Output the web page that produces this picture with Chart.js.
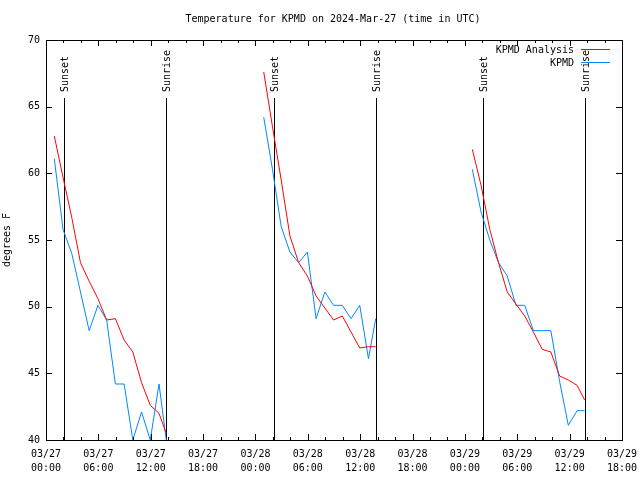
<!DOCTYPE html>
<html lang="en">
<head>
<meta charset="UTF-8">
<script src="https://cdn.jsdelivr.net/npm/chart.js"></script>
<style>
  body { margin: 0; background: #fff; }
  #wrap { width: 640px; height: 480px; }
</style>
</head>
<body>
<div id="wrap"><canvas id="chart" width="640" height="480"></canvas></div>
<script>
  const titleText = 'Temperature for KPMD on 2024-Mar-27 (time in UTC)';
  const yTitle = 'degrees F';
  const dayLabels = ['03/27', '03/28', '03/29'];
  const seriesNames = ['KPMD Analysis', 'KPMD'];

  // hours since 03/27 00:00 UTC, one list per night
  const hours1 = [0.95, 1.95, 2.95, 3.95, 4.95, 5.95, 6.95, 7.95, 8.95, 9.95, 10.95, 11.95, 12.95, 13.78];
  const hours2 = [24.95, 25.95, 26.95, 27.95, 28.95, 29.95, 30.95, 31.95, 32.95, 33.95, 34.95, 35.95, 36.95, 37.78];
  const hours3 = [48.85, 49.85, 50.85, 51.85, 52.85, 53.85, 54.85, 55.85, 56.85, 57.85, 58.85, 59.85, 60.85, 61.72];

  // KPMD Analysis (red)
  const analysis1 = [62.8, 59.7, 56.7, 53.3, 51.9, 50.6, 49.0, 49.1, 47.5, 46.6, 44.3, 42.6, 42.0, 40.5];
  const analysis2 = [67.6, 63.5, 59.5, 55.3, 53.3, 52.3, 50.8, 49.9, 49.0, 49.3, 48.1, 46.9, 47.0, 47.0];
  const analysis3 = [61.8, 59.1, 55.8, 53.3, 51.1, 50.2, 49.3, 48.1, 46.8, 46.6, 44.8, 44.5, 44.1, 43.0];

  // KPMD observations (blue)
  const kpmd1 = [61.1, 55.8, 54.0, 51.1, 48.2, 50.1, 49.0, 44.2, 44.2, 40.0, 42.1, 40.0, 44.2, 40.0];
  const kpmd2 = [64.2, 60.3, 56.0, 54.1, 53.3, 54.1, 49.1, 51.1, 50.1, 50.1, 49.1, 50.1, 46.1, 49.1];
  const kpmd3 = [60.3, 57.1, 55.0, 53.3, 52.3, 50.1, 50.1, 48.2, 48.2, 48.2, 44.4, 41.1, 42.2, 42.2];

  const sunsetHours = [2.08, 26.08, 50.08];
  const sunriseHours = [13.78, 37.78, 61.72];

  const monoFont = { family: '"DejaVu Sans Mono", monospace', size: 10, lineHeight: 1.4 };
  const fontStr = '10px "DejaVu Sans Mono", monospace';

  // join the nights with a null gap between them
  function joinNights(hourLists, tempLists) {
    const pts = [];
    hourLists.forEach((hs, i) => {
      if (i > 0) pts.push({ x: hs[0] - 0.5, y: null });
      hs.forEach((h, j) => pts.push({ x: h, y: tempLists[i][j] }));
    });
    return pts;
  }

  const pad2 = n => (n < 10 ? '0' : '') + n;

  // gnuplot style frame, ticks, sun lines, legend and titles
  const framePlugin = {
    id: 'frame',
    beforeDatasetsDraw(chart) {
      const ctx = chart.ctx;
      const a = chart.chartArea;
      const xs = chart.scales.x;
      ctx.save();
      ctx.strokeStyle = '#000';
      ctx.lineWidth = 1;
      ctx.fillStyle = '#000';
      ctx.font = fontStr;

      // sunset / sunrise lines
      const drawSun = (h, label) => {
        const px = Math.round(xs.getPixelForValue(h)) + 0.5;
        ctx.beginPath();
        ctx.moveTo(px, 98);
        ctx.lineTo(px, a.bottom);
        ctx.stroke();
        ctx.save();
        ctx.translate(px + 1, 92);
        ctx.rotate(-Math.PI / 2);
        ctx.textAlign = 'left';
        ctx.textBaseline = 'middle';
        ctx.fillText(label, 0, 0);
        ctx.restore();
      };
      sunsetHours.forEach(h => drawSun(h, 'Sunset'));
      sunriseHours.forEach(h => drawSun(h, 'Sunrise'));
      ctx.restore();
    },
    afterDraw(chart) {
      const ctx = chart.ctx;
      const a = chart.chartArea;
      const xs = chart.scales.x, ys = chart.scales.y;
      ctx.save();
      ctx.strokeStyle = '#000';
      ctx.fillStyle = '#000';
      ctx.lineWidth = 1;

      // border
      ctx.strokeRect(Math.round(a.left) + 0.5, Math.round(a.top) + 0.5,
        Math.round(a.right - a.left), Math.round(a.bottom - a.top));

      // x ticks: minor every 2h, major every 6h, mirrored on top
      ctx.beginPath();
      for (let h = 0; h <= 66; h += 2) {
        const px = Math.round(xs.getPixelForValue(h)) + 0.5;
        const len = h % 6 === 0 ? 6 : 3;
        ctx.moveTo(px, a.bottom); ctx.lineTo(px, a.bottom - len);
        ctx.moveTo(px, a.top); ctx.lineTo(px, a.top + len);
      }
      // y ticks, mirrored on right
      ys.ticks.forEach(t => {
        const py = Math.round(ys.getPixelForValue(t.value)) + 0.5;
        ctx.moveTo(a.left, py); ctx.lineTo(a.left + 6, py);
        ctx.moveTo(a.right, py); ctx.lineTo(a.right - 6, py);
      });
      ctx.stroke();

      ctx.font = fontStr;
      // title
      ctx.textAlign = 'center';
      ctx.textBaseline = 'middle';
      ctx.fillText(titleText, 333, 19);

      // y axis title
      ctx.save();
      ctx.translate(7, 240);
      ctx.rotate(-Math.PI / 2);
      ctx.fillText(yTitle, 0, 0);
      ctx.restore();

      // legend
      const colors = chart.data.datasets.map(d => d.borderColor);
      seriesNames.forEach((name, i) => {
        const y = 50 + i * 13;
        ctx.textAlign = 'right';
        ctx.fillStyle = '#000';
        ctx.fillText(name, 574, y);
        ctx.strokeStyle = colors[i];
        ctx.beginPath();
        ctx.moveTo(581, y - 0.5);
        ctx.lineTo(610, y - 0.5);
        ctx.stroke();
      });
      ctx.restore();
    }
  };

  new Chart(document.getElementById('chart'), {
    type: 'line',
    data: {
      datasets: [
        {
          label: seriesNames[0],
          data: joinNights([hours1, hours2, hours3], [analysis1, analysis2, analysis3]),
          borderColor: '#ff0000',
          borderWidth: 1,
          pointRadius: 0,
          tension: 0,
          spanGaps: false
        },
        {
          label: seriesNames[1],
          data: joinNights([hours1, hours2, hours3], [kpmd1, kpmd2, kpmd3]),
          borderColor: '#0088ff',
          borderWidth: 1,
          pointRadius: 0,
          tension: 0,
          spanGaps: false
        }
      ]
    },
    options: {
      responsive: false,
      animation: false,
      layout: { padding: { top: 40, right: 18, left: 0, bottom: 0 } },
      plugins: {
        legend: { display: false },
        title: { display: false },
        tooltip: { enabled: false }
      },
      scales: {
        x: {
          type: 'linear',
          min: 0,
          max: 66,
          afterFit: s => { s.height = 40; s.paddingLeft = 0; s.paddingRight = 0; },
          grid: { display: false },
          border: { display: false },
          ticks: {
            stepSize: 6,
            autoSkip: false,
            maxRotation: 0,
            padding: -1,
            color: '#000',
            font: monoFont,
            callback: v => [dayLabels[Math.floor(v / 24)], pad2(v % 24) + ':00']
          }
        },
        y: {
          min: 40,
          max: 70,
          afterFit: s => { s.width = 46; s.paddingTop = 0; s.paddingBottom = 0; },
          grid: { display: false, drawTicks: false },
          border: { display: false },
          ticks: {
            stepSize: 5,
            padding: 6,
            color: '#000',
            font: { family: monoFont.family, size: 10 }
          }
        }
      }
    },
    plugins: [framePlugin]
  });
</script>
</body>
</html>
